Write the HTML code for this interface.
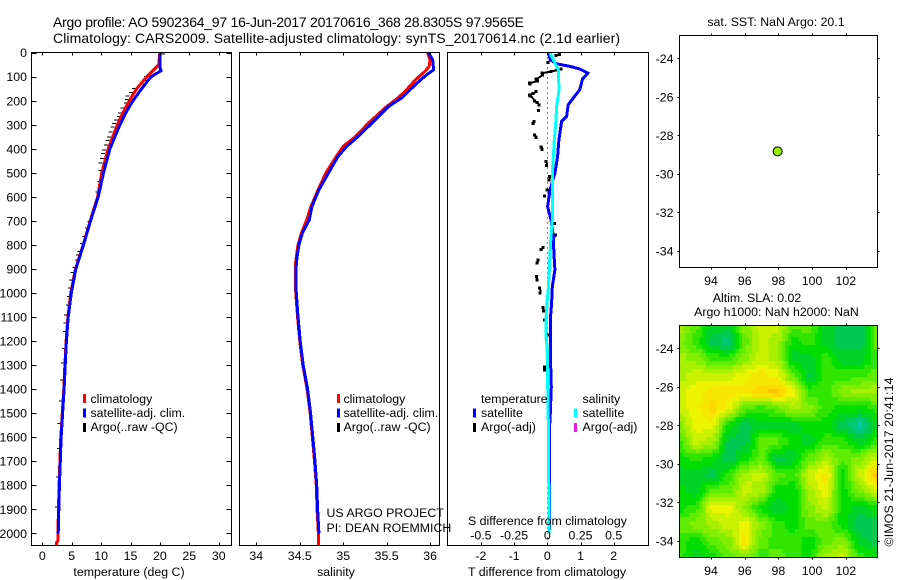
<!DOCTYPE html>
<html lang="en">
<head>
<meta charset="utf-8">
<title>Argo profile 5902364_97</title>
<style>
html,body{margin:0;padding:0;background:#fff;}
svg{display:block;}
text{font-family:"Liberation Sans",Arial,sans-serif;font-size:12.35px;fill:#000;}
.t14{font-size:14px;}
</style>
</head>
<body>
<svg id="fig" xmlns="http://www.w3.org/2000/svg" width="900" height="580" viewBox="0 0 900 580">
<rect x="0" y="0" width="900" height="580" fill="#fff"/>
<g id="layer-map"></g>
<g id="layer-marks"></g>
<g id="layer-axes"></g>
<g id="layer-text">
<text class="t14" x="53" y="27" textLength="471">Argo profile: AO 5902364_97 16-Jun-2017 20170616_368 28.8305S 97.9565E</text>
<text class="t14" x="53" y="43" textLength="567">Climatology: CARS2009. Satellite-adjusted climatology: synTS_20170614.nc (2.1d earlier)</text>
<text x="129" y="576" text-anchor="middle">temperature (deg C)</text>
<text x="336" y="576" text-anchor="middle">salinity</text>
<text x="547" y="576" text-anchor="middle">T difference from climatology</text>
<text x="547.5" y="525" text-anchor="middle">S difference from climatology</text>
<text x="326.5" y="517">US ARGO PROJECT</text>
<text x="326.5" y="532">PI: DEAN ROEMMICH</text>
<text x="776" y="26" text-anchor="middle">sat. SST: NaN Argo: 20.1</text>
<text x="757" y="302" text-anchor="middle">Altim. SLA: 0.02</text>
<text x="776.5" y="316" text-anchor="middle">Argo h1000: NaN h2000: NaN</text>
<text transform="translate(893,546.5) rotate(-90)" textLength="169">©IMOS 21-Jun-2017 20:41:14</text>

<rect x="83" y="394" width="3" height="9" fill="#ff0000"/>
<text x="90.5" y="403">climatology</text>
<rect x="83" y="408.5" width="3" height="9" fill="#0000ff"/>
<text x="90.5" y="417">satellite-adj. clim.</text>
<rect x="83" y="423" width="3" height="9" fill="#000"/>
<text x="90.5" y="431">Argo(..raw -QC)</text>

<rect x="337" y="394" width="3" height="9" fill="#ff0000"/>
<text x="343.5" y="403">climatology</text>
<rect x="337" y="408.5" width="3" height="9" fill="#0000ff"/>
<text x="343.5" y="417">satellite-adj. clim.</text>
<rect x="337" y="423" width="3" height="9" fill="#000"/>
<text x="343.5" y="431">Argo(..raw -QC)</text>

<text x="481" y="403">temperature</text>
<text x="582.5" y="403">salinity</text>
<rect x="473" y="408.5" width="3" height="9" fill="#0000ff"/>
<text x="481" y="417">satellite</text>
<rect x="473" y="423" width="3" height="9" fill="#000"/>
<text x="481" y="431">Argo(-adj)</text>
<rect x="574" y="408.5" width="3" height="9" fill="#00ffff"/>
<text x="582.5" y="417">satellite</text>
<rect x="574" y="423" width="3" height="9" fill="#e81ce8"/>
<text x="582.5" y="431">Argo(-adj)</text>
</g>
</svg>
<script>
// ---- tick labels ----
const depthTicks = [0,100,200,300,400,500,600,700,800,900,1000,1100,1200,1300,1400,1500,1600,1700,1800,1900,2000];
const tempTicks = [0,5,10,15,20,25,30];
const salTicks = ["34","34.5","35","35.5","36"];
const tDiffTicks = ["-2","-1","0","1","2"];
const sDiffTicks = ["-0.5","-0.25","0","0.25","0.5"];
const lonTicks = [94,96,98,100,102];
const latTicks = [-24,-26,-28,-30,-32,-34];

// ---- temperature profiles ----
const climTDepth = [0,50,60,100,150,200,250,300,400,500,600,700,800,900,1000,1100,1200,1300,1400,1500,1600,1700,1800,1900,2000,2030,2040,2050];
const climTemp = [20,19.8,19.4,17.75,16.05,14.8,13.7,12.75,11.2,10.1,9.4,8.15,6.95,5.65,4.85,4.35,4.05,3.85,3.65,3.4,3.15,3.0,2.85,2.75,2.65,2.65,2.4,2.4];
const satTDepth = [0,60,75,100,150,200,250,300,400,500,600,700,800,900,1000,1100,1200,1300,1400,1500,1600,1700,1800,1900,2000];
const satTemp = [20,20,20.2,18.5,16.9,15.4,14.2,13.2,11.5,10.4,9.5,8.2,7.0,5.7,4.93,4.4,4.1,3.9,3.7,3.45,3.2,3.06,2.9,2.8,2.7];
const argoTDepth = [5,90,100,115,130,150,165,180,195,210,230,250,265,280,295,310,330,350,365,385,405,420,440,460,490,536,580,703,730,765,793,828,842,862,894,915,946,980,1015,1050,1092,1125,1161,1230,1292,1362,1449,1543,1647,1765,1890];
const argoTemp = [20.6,18.2,17.75,17.6,17.0,15.7,15.2,14.6,14.5,14.3,13.7,13.3,13.1,12.6,12.3,12.0,11.7,11.4,11.2,10.9,10.6,10.4,10.2,10.0,9.95,9.8,9.5,8.1,7.66,7.26,6.87,6.41,6.13,5.95,5.56,5.25,5.0,4.83,4.6,4.42,4.15,4.05,3.98,3.74,3.57,3.4,3.3,3.0,2.9,2.73,2.55];

// ---- salinity profiles ----
const climSDepth = [1,29,57,78,113,154,189,224,293,349,390,432,501,571,640,696,750,800,850,880,950,1000,1100,1200,1300,1400,1500,1600,1700,1800,1900,2000,2050];
const climSal = [35.97,36.0,35.99,35.94,35.83,35.73,35.63,35.5,35.29,35.14,35.0,34.92,34.8,34.71,34.63,34.58,34.52,34.48,34.46,34.45,34.45,34.455,34.475,34.5,34.535,34.585,34.62,34.645,34.67,34.69,34.7,34.715,34.715];
const satSDepth = [1,29,71,92,126,154,189,224,293,349,390,432,501,571,640,696,750,800,850,880,950,1000,1100,1200,1300,1400,1500,1600,1700,1800,1900,2000];
const satSal = [35.98,36.03,36.04,35.96,35.85,35.77,35.67,35.52,35.33,35.17,35.04,34.94,34.83,34.72,34.64,34.61,34.53,34.49,34.47,34.46,34.455,34.46,34.48,34.505,34.54,34.59,34.625,34.65,34.675,34.695,34.705,34.72];

// ---- differences from climatology ----
const satDiffTDepth = [0,29,46,57,68,85,110,154,189,217,265,286,363,432,501,571,640,696,765,834,904,974,1043,1112,1250,1390,1500,1557,1987];
const satDiffT = [0.05,0.08,0.28,0.68,0.98,1.22,1.06,0.98,0.78,0.63,0.58,0.43,0.35,0.31,0.23,0.08,0.01,0.11,0.18,0.2,0.23,0.15,0.13,0.09,0.09,0.12,0.09,0.07,0.07];
const satDiffSDepth = [1,29,71,154,224,293,363,432,501,640,696,765,834,904,974,1043,1112,1181,1250,1390,1560,1660,2000];
const satDiffS = [0.02,0.045,0.083,0.088,0.07,0.063,0.053,0.045,0.038,0.038,0.038,0.028,0.02,0.015,0.008,-0.002,-0.01,-0.01,0.003,0.003,0.008,0.01,0.013];
const argoDiffDepth = [8,11,40,68,72,78,85,92,110,118,126,130,161,170,175,180,200,208,217,240,286,295,342,352,393,402,453,470,515,530,571,596,710,758,770,810,820,862,875,932,945,980,1000,1060,1075,1112,1175,1307,1320];
const argoDiffT = [0.38,0.28,0.03,0.43,0.3,0.13,-0.15,-0.13,-0.32,-0.28,-0.52,-0.5,-0.32,-0.42,-0.52,-0.5,-0.37,-0.3,-0.24,-0.25,-0.39,-0.41,-0.37,-0.33,-0.17,-0.14,-0.02,-0.01,0.08,0.07,0.01,-0.07,0.23,0.26,0.2,-0.12,-0.17,-0.27,-0.29,-0.31,-0.3,-0.22,-0.2,-0.12,-0.1,-0.07,0.03,-0.07,-0.07];

// ---- map ----
const floatLon = 97.9565;
const floatLat = -28.8305;
const mapLons = [92.1,93.1,94.1,95.05,96,97,97.9,98.9,99.85,100.8,101.8,102.85,103.85];
const mapLats = [-22.8,-23.66,-24.52,-25.38,-26.24,-27.1,-27.97,-28.83,-29.69,-30.55,-31.41,-32.27,-33.13,-33.99,-34.85];
const slaGrid = [
 [4,3,1.5,1.5,3.5,4.5,4.5,3,3,1.5,1,1,3],
 [3.5,2.5,1,0.5,3,4.5,4,2,2.5,1.5,1,1,3],
 [4,3.5,2.5,2.5,3.5,4.5,4,1.5,1.5,2.5,1.5,1.5,2.5],
 [4,4.5,4.5,4.5,5,5.5,5,3,1.2,2.5,2.5,2.5,3],
 [4.5,5,5.5,5.5,5.5,6,6.5,5,2.5,2.5,3.5,4,4],
 [4.5,5,6,5,3,2.5,3,4,3.5,2.5,2,2,2.5],
 [3.5,5,5,2,1,1.5,1.5,1.5,2,2,1,0,1.5],
 [2.5,4.5,4,1,1,3,3,2,1.5,2.5,2.5,1.5,2.5],
 [2,2.5,2,0.8,2,3,1,1.5,3,4,3,3.5,4.5],
 [1.5,1.5,1,2.5,4,4.5,3,2.5,4.5,5.5,2,4.5,6.5],
 [2,1.5,3,3,4.5,4,2,1.8,4,5,2,3.5,4.5],
 [2,2.5,5,5,3.5,2,1.3,2,3.5,4.5,2,1.5,2],
 [3,3.5,4,4.5,5,3.5,2.5,2,3,3,2,0.8,0.8],
 [2.5,2,3,3.5,5.5,3,2.5,2.5,2,3,3.5,1.5,1],
 [2.5,1.5,2,3,3.5,2.5,3,2.5,2,4,4.5,2.5,2]
];
const slaPalette = ["#00c8a0","#00c850","#00de00","#60ec00","#a8f000","#ecf400","#ffd800","#ffae00"];

// ---- scales ----
const depthY = d => 52.7 + d * 0.2403;
const tempX = t => 42.3 + t * 5.88;
const salX = s => 256.3 + (s - 34) * 86.9;
const tDiffX = t => 547.3 + t * 33.2;
const sDiffX = s => 547.3 + s * 132.8;
const lonX = lon => 711 + (lon - 94) * 16.85;
const latY = (lat, top) => top + 23.3 + (-lat - 24) * 19.27;

const SVGNS = "http://www.w3.org/2000/svg";
const marks = document.getElementById("layer-marks");
const axes = document.getElementById("layer-axes");
const labels = document.getElementById("layer-text");
const mapLayer = document.getElementById("layer-map");

function mk(tag, parent, attrs) {
  const el = document.createElementNS(SVGNS, tag);
  for (const k in attrs) el.setAttribute(k, attrs[k]);
  parent.appendChild(el);
  return el;
}
function series(xs, ys, xf, color, width, name) {
  const pts = xs.map((v, i) => xf(v).toFixed(1) + "," + depthY(ys[i]).toFixed(1)).join(" ");
  const el = mk("polyline", marks, {points: pts, fill: "none", stroke: color, "stroke-width": width, "shape-rendering": "crispEdges", "stroke-linejoin": "miter"});
  
  
}
function tick(x1, y1, x2, y2, name) {
  const el = mk("line", axes, {x1: x1, y1: y1, x2: x2, y2: y2, stroke: "#000", "stroke-width": 1, "shape-rendering": "crispEdges"});
  
  
}
function label(x, y, str, anchor, name) {
  const el = mk("text", labels, {x: x, y: y, "text-anchor": anchor});
  el.textContent = str;
  
  
}
function box(l, t, r, b, name) {
  const el = mk("rect", axes, {x: l, y: t, width: r - l, height: b - t, fill: "none", stroke: "#000", "stroke-width": 1, "shape-rendering": "crispEdges"});
  
  
}

// ---- profile panel frames ----
const TOP = 52.5, BOT = 545.5;
box(31.5, TOP, 231.5, BOT, "temperature-panel-frame");
box(239.5, TOP, 439.5, BOT, "salinity-panel-frame");
box(447.5, TOP, 648.5, BOT, "difference-panel-frame");

depthTicks.forEach(d => {
  const y = Math.round(depthY(d)) + 0.5;
  tick(31.5, y, 36.5, y, "depth-tick-left");
  tick(226.5, y, 231.5, y, "depth-tick-right");
  label(27, depthY(d) + 4.5, String(d), "end", "depth-tick-label");
});
tempTicks.forEach(t => {
  const x = Math.round(tempX(t)) + 0.5;
  tick(x, TOP, x, TOP + 3, "temperature-tick-top");
  tick(x, BOT - 3, x, BOT, "temperature-tick-bottom");
  label(tempX(t), 560, String(t), "middle", "temperature-tick-label");
});
salTicks.forEach(s => {
  const x = Math.round(salX(parseFloat(s))) + 0.5;
  tick(x, TOP, x, TOP + 3, "salinity-tick-top");
  tick(x, BOT - 3, x, BOT, "salinity-tick-bottom");
  label(salX(parseFloat(s)), 560, s, "middle", "salinity-tick-label");
});
tDiffTicks.forEach(t => {
  const x = Math.round(tDiffX(parseFloat(t))) + 0.5;
  tick(x, TOP, x, TOP + 3, "t-difference-tick-top");
  tick(x, BOT - 3, x, BOT, "t-difference-tick-bottom");
  label(tDiffX(parseFloat(t)), 560, t, "middle", "t-difference-tick-label");
});
sDiffTicks.forEach(s => {
  label(sDiffX(parseFloat(s)), 539.5, s, "middle", "s-difference-tick-label");
});

// ---- temperature marks ----
argoTemp.forEach((t, i) => {
  const m = mk("rect", marks, {x: tempX(t) - 2.5, y: depthY(argoTDepth[i]) - 0.5, width: 4, height: 1, fill: "#000", "shape-rendering": "crispEdges"});
  
  
});
series(climTemp, climTDepth, tempX, "#ff0000", 3, "climatology-temperature-line");
series(satTemp, satTDepth, tempX, "#0000ff", 3, "satellite-temperature-line");

// ---- salinity marks ----
series(climSal, climSDepth, salX, "#ff0000", 3, "climatology-salinity-line");
series(satSal, satSDepth, salX, "#0000ff", 3, "satellite-salinity-line");

// ---- difference marks ----
const zero = mk("line", marks, {x1: tDiffX(0), y1: TOP, x2: tDiffX(0), y2: BOT, stroke: "#000", "stroke-width": 1, "stroke-dasharray": "1 4", "shape-rendering": "crispEdges"});


argoDiffT.forEach((t, i) => {
  const m = mk("rect", marks, {x: tDiffX(t) - 2, y: depthY(argoDiffDepth[i]) - 1.5, width: 3, height: 3, fill: "#000", "shape-rendering": "crispEdges"});
  
  
  if (i > 0 && argoDiffDepth[i] - argoDiffDepth[i - 1] <= 22) {
    const link = mk("line", marks, {x1: tDiffX(argoDiffT[i - 1]), y1: depthY(argoDiffDepth[i - 1]), x2: tDiffX(t), y2: depthY(argoDiffDepth[i]), stroke: "#000", "stroke-width": 2, "shape-rendering": "crispEdges"});
    
    
  }
});
series(satDiffT, satDiffTDepth, tDiffX, "#0000ff", 3, "satellite-t-difference-line");
series(satDiffS, satDiffSDepth, sDiffX, "#00ffff", 3, "satellite-s-difference-line");

// ---- map panels ----
function slaAt(lon, lat) {
  let i = 0, j = 0;
  while (i < mapLons.length - 2 && lon > mapLons[i + 1]) i++;
  while (j < mapLats.length - 2 && lat < mapLats[j + 1]) j++;
  const u = Math.min(1, Math.max(0, (lon - mapLons[i]) / (mapLons[i + 1] - mapLons[i])));
  const v = Math.min(1, Math.max(0, (lat - mapLats[j]) / (mapLats[j + 1] - mapLats[j])));
  const su = u * u * (3 - 2 * u) * 0.5 + u * 0.5;
  const sv = v * v * (3 - 2 * v) * 0.5 + v * 0.5;
  return (slaGrid[j][i] * (1 - su) + slaGrid[j][i + 1] * su) * (1 - sv) +
         (slaGrid[j + 1][i] * (1 - su) + slaGrid[j + 1][i + 1] * su) * sv;
}
function hex(c) { return [1, 3, 5].map(k => parseInt(c.substr(k, 2), 16)); }
function slaColor(v) {
  const q = Math.round(v * 2) / 2;
  const a = Math.min(slaPalette.length - 2, Math.floor(q));
  const f = q - a;
  const c0 = hex(slaPalette[a]), c1 = hex(slaPalette[a + 1]);
  return "rgb(" + c0.map((c, k) => Math.round(c + (c1[k] - c) * f)).join(",") + ")";
}
const MAP_L = 679.5, MAP_R = 877.5, MAP_W = 198, MAP_H = 232;
const SST_TOP = 35, SLA_TOP = 325;
const CELL_W = 3.3, CELL_H = 4;
for (let py = 0; py < MAP_H; py += CELL_H) {
  for (let px = 0; px < MAP_W; px += CELL_W) {
    const lon = 94 + (MAP_L + px + CELL_W / 2 - 711) / 16.85;
    const lat = -(24 + (SLA_TOP + py + CELL_H / 2 - SLA_TOP - 23.3) / 19.27);
    const cell = mk("rect", mapLayer, {x: (MAP_L + px).toFixed(1), y: SLA_TOP + py, width: CELL_W + 0.4, height: CELL_H + 0.4, fill: slaColor(slaAt(lon, lat)), "shape-rendering": "crispEdges"});
    
    
  }
}
const coverR = mk("rect", mapLayer, {x: MAP_R, y: SLA_TOP - 2, width: 6, height: MAP_H + 6, fill: "#fff"});


const coverB = mk("rect", mapLayer, {x: MAP_L - 2, y: SLA_TOP + MAP_H, width: MAP_W + 8, height: 6, fill: "#fff"});



[[SST_TOP, "sst"], [SLA_TOP, "sla"]].forEach(([top, key]) => {
  box(MAP_L, top + 0.5, MAP_R, top + MAP_H + 0.5, key + "-map-frame");
  lonTicks.forEach(lon => {
    const x = Math.round(lonX(lon)) + 0.5;
    tick(x, top - 1.5, x, top + 0.5, key + "-lon-tick-top");
    tick(x, top + MAP_H + 0.5, x, top + MAP_H + 2.5, key + "-lon-tick-bottom");
    label(lonX(lon), top + MAP_H + 18, String(lon), "middle", key + "-lon-tick-label");
  });
  latTicks.forEach(lat => {
    const y = Math.round(latY(lat, top)) + 0.5;
    tick(MAP_L - 2, y, MAP_L, y, key + "-lat-tick-left");
    tick(MAP_R, y, MAP_R + 2, y, key + "-lat-tick-right");
    label(673.5, latY(lat, top) + 4.5, String(lat), "end", key + "-lat-tick-label");
  });
});

const dot = mk("circle", marks, {cx: lonX(floatLon), cy: latY(floatLat, SST_TOP), r: 4.5, fill: "#99ee00", stroke: "#000", "stroke-width": 1});


</script>
</body>
</html>
